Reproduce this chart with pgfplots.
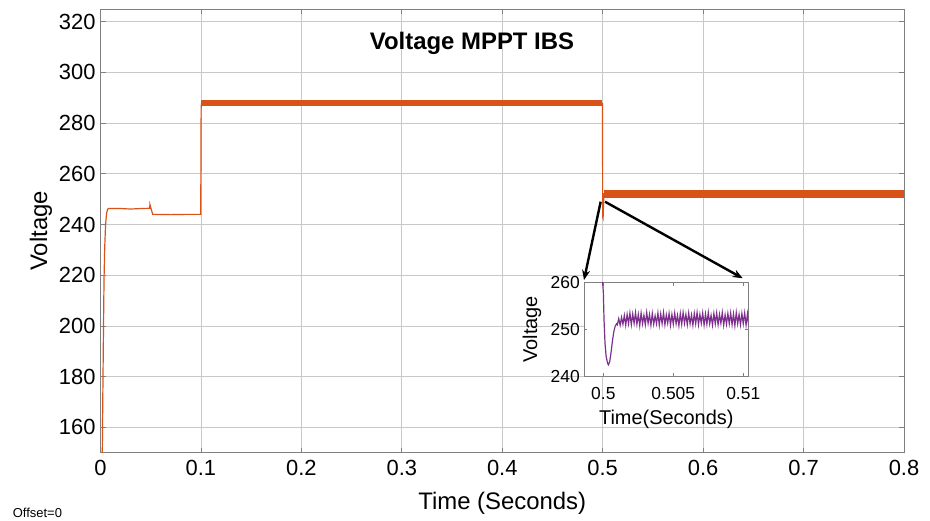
\documentclass[border=0pt]{standalone}
\usepackage{pgfplots}
\pgfplotsset{compat=1.18}
\usepackage{fontspec}
\setmainfont{Liberation Sans}
\usetikzlibrary{arrows.meta}
\definecolor{morange}{RGB}{217,83,25}
\definecolor{mpurple}{RGB}{126,47,142}
\definecolor{axgray}{RGB}{128,128,128}
\definecolor{gridgray}{RGB}{200,200,200}
\begin{document}
\begin{tikzpicture}
\useasboundingbox (0,0) rectangle (930bp,521bp);
% main axis
\begin{axis}[
  at={(100.5bp,68.3bp)}, anchor=south west,
  scale only axis, width=803.5bp, height=443.7bp,
  xmin=0, xmax=0.8, ymin=150, ymax=325,
  xtick={0,0.1,0.2,0.3,0.4,0.5,0.6,0.7,0.8},
  xticklabels={0,0.1,0.2,0.3,0.4,0.5,0.6,0.7,0.8},
  ytick={160,180,200,220,240,260,280,300,320},
  grid=major,
  major grid style={gridgray, line width=0.8bp},
  axis line style={axgray, line width=0.8bp},
  tick style={axgray, line width=0.8bp},
  tick align=inside, major tick length=5bp,
  /pgf/number format/assume math mode=true,
  tick label style={font=\fontsize{22}{25}\selectfont},
  xticklabel style={anchor=base, yshift=-23bp},
  yticklabel style={xshift=-1.5bp},
  xlabel={Time (Seconds)}, ylabel={Voltage},
  label style={font=\fontsize{24}{28}\selectfont},
  xlabel style={at={(axis description cs:0.5,0)}, anchor=base, yshift=-56.8bp},
  ylabel style={at={([xshift=-53.5bp]axis description cs:0,0.5)}, anchor=base},
  clip=true,
]
\addplot[morange, line width=1.2bp] coordinates {
 (0.0016,140) (0.0020,160) (0.0025,180) (0.0030,200) (0.0035,218) (0.0042,231)
 (0.0050,239.5) (0.0060,244.3) (0.0070,245.9) (0.0080,246.3) (0.0200,246.3)
 (0.0300,246.1) (0.0400,246.3) (0.0490,246.4) (0.0492,247.9) (0.0497,247.2)
 (0.0505,246.0) (0.0520,244.0) (0.0700,243.9) (0.0850,244.0) (0.0998,244.0)
 (0.1002,286.0) (0.1005,287.7) (0.4998,287.7) (0.5000,243.0) (0.5004,242.5)
 (0.5008,247.5) (0.5012,252.1) (0.8000,252.1)
};
\addplot[morange, line width=6bp] coordinates {(0.1004,287.8) (0.4997,287.8)};
\addplot[morange, line width=8bp] coordinates {(0.5013,252.1) (0.8000,252.1)};
\draw[black, line width=2.4bp, -{Stealth[length=10bp,width=8bp]}]
  (axis cs:0.4980,249.0) -- (axis cs:0.4814,218.1);
\draw[black, line width=2.4bp, -{Stealth[length=10bp,width=8bp]}]
  (axis cs:0.5023,249.0) -- (axis cs:0.6394,218.8);
\end{axis}
% title and offset
\node[font=\bfseries\fontsize{24}{28}\selectfont] at (472bp,478bp) {Voltage MPPT IBS};
\node[anchor=west, font=\fontsize{13}{15}\selectfont, inner sep=0pt] at (12.7bp,8bp) {Offset=0};
% inset axis
\begin{axis}[
  at={(584.3bp,145bp)}, anchor=south west,
  scale only axis, width=164bp, height=93.3bp,
  xmin=0.49864, xmax=0.51036, ymin=240, ymax=260,
  xtick={0.5,0.505,0.51}, xticklabels={0.5,0.505,0.51},
  ytick={240,250,260},
  axis background/.style={fill=white},
  axis line style={axgray, line width=0.8bp},
  tick style={axgray, line width=0.6bp},
  tick align=inside, major tick length=3bp,
  /pgf/number format/assume math mode=true,
  tick label style={font=\fontsize{17.5}{20}\selectfont},
  xticklabel style={anchor=base, yshift=-24bp},
  yticklabel style={xshift=-1bp},
  xlabel={Time(Seconds)}, ylabel={Voltage},
  label style={font=\fontsize{20}{23}\selectfont},
  xlabel style={at={(axis description cs:0.5,0)}, anchor=base, yshift=-48bp},
  ylabel style={at={([xshift=-47.3bp]axis description cs:0,0.5)}, anchor=base},
  clip=true,
]
\addplot[mpurple, line width=1.2bp] coordinates {
 (0.49990,262) (0.50000,258) (0.50005,252) (0.50012,247) (0.50020,244.2)
 (0.50030,242.8) (0.50036,242.4) (0.50045,243.0) (0.50055,245.0) (0.50065,247.5)
 (0.50075,249.5) (0.50085,250.7) (0.50095,251.2)
 (0.50100,251.0) (0.50110,252.3) (0.50120,250.9) (0.50130,252.6) (0.50140,251.1)
 (0.50150,253.0) (0.50160,250.9) (0.50170,253.2) (0.50180,251.2) (0.50190,253.5)
 (0.50200,251.0) (0.50210,253.3) (0.50220,251.3) (0.50230,253.6) (0.50240,251.1)
 (0.50250,253.2) (0.50260,250.8) (0.50270,253.5) (0.50280,251.2) (0.50290,253.0)
 (0.50300,251.0) (0.50310,253.6) (0.50320,251.3) (0.50330,253.2) (0.50340,250.9)
 (0.50350,253.4) (0.50360,251.1) (0.50370,252.9) (0.50380,251.2) (0.50390,253.5)
 (0.50400,250.9) (0.50410,253.3) (0.50420,251.2) (0.50430,253.6) (0.50440,251.0)
 (0.50450,253.1) (0.50460,251.3) (0.50470,253.4) (0.50480,250.9) (0.50490,253.2)
 (0.50500,251.1) (0.50510,253.5) (0.50520,251.2) (0.50530,253.0) (0.50540,250.8)
 (0.50550,253.4) (0.50560,251.1) (0.50570,253.6) (0.50580,251.3) (0.50590,253.2)
 (0.50600,251.0) (0.50610,253.5) (0.50620,251.2) (0.50630,253.1) (0.50640,250.9)
 (0.50650,253.4) (0.50660,251.2) (0.50670,253.6) (0.50680,251.0) (0.50690,253.2)
 (0.50700,251.3) (0.50710,253.5) (0.50720,250.9) (0.50730,253.3) (0.50740,251.1)
 (0.50750,253.6) (0.50760,251.2) (0.50770,253.0) (0.50780,250.9) (0.50790,253.4)
 (0.50800,251.2) (0.50810,253.5) (0.50820,251.0) (0.50830,253.2) (0.50840,251.3)
 (0.50850,253.6) (0.50860,250.9) (0.50870,253.1) (0.50880,251.1) (0.50890,253.4)
 (0.50900,251.2) (0.50910,253.5) (0.50920,251.0) (0.50930,253.3) (0.50940,250.8)
 (0.50950,253.6) (0.50960,251.2) (0.50970,253.2) (0.50980,251.0) (0.50990,253.4)
 (0.51000,251.2) (0.51010,253.5) (0.51020,250.9) (0.51030,253.3) (0.51040,250.6)
};
\end{axis}
\end{tikzpicture}
\end{document}
